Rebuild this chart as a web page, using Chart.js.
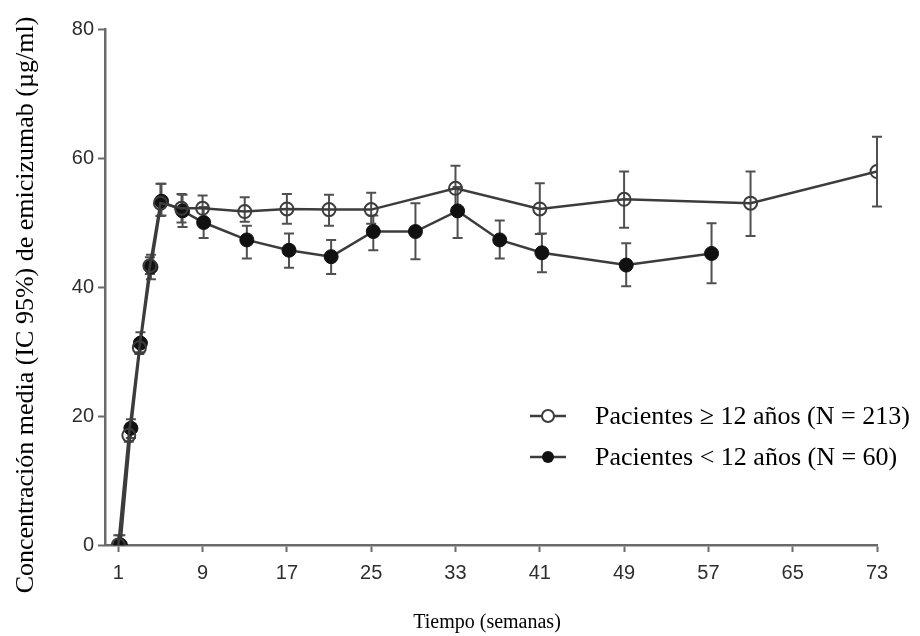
<!DOCTYPE html>
<html>
<head>
<meta charset="utf-8">
<script src="https://cdn.jsdelivr.net/npm/chart.js@4/dist/chart.umd.min.js"></script>
<style>
  body { margin: 0; background: #fff; }
  canvas { display: block; }
</style>
</head>
<body>
<canvas id="pkChart" width="920" height="636"></canvas>
<script>
// datos (semanas, media, IC 95%)
const weeksOld = [1, 2, 3, 4, 5, 7, 9, 13, 17, 21, 25, 33, 41, 49, 61, 73];
const meanOld  = [0, 17.0, 30.6, 43.3, 53.0, 52.2, 52.2, 51.7, 52.1, 52.0, 52.0, 55.3, 52.1, 53.6, 53.0, 57.9];
const lowOld   = [0, 16.0, 29.6, 42.0, 51.0, 50.0, 50.4, 50.1, 49.8, 49.5, 49.8, 51.8, 48.2, 49.2, 47.9, 52.5];
const highOld  = [1.5, 18.3, 31.8, 44.6, 56.0, 54.4, 54.2, 53.9, 54.4, 54.3, 54.6, 58.8, 56.1, 57.9, 57.9, 63.3];

const weeksYoung = [1.2, 2.2, 3.1, 4.1, 5.1, 7.1, 9.1, 13.2, 17.2, 21.2, 25.2, 29.2, 33.2, 37.2, 41.2, 49.2, 57.3];
const meanYoung  = [0, 18.1, 31.3, 43.1, 53.3, 51.8, 50.0, 47.3, 45.7, 44.7, 48.6, 48.6, 51.8, 47.3, 45.3, 43.4, 45.2];
const lowYoung   = [0, 16.6, 29.9, 41.2, 51.1, 49.3, 47.6, 44.4, 43.0, 42.0, 45.7, 44.3, 47.6, 44.4, 42.3, 40.1, 40.6];
const highYoung  = [1.5, 19.5, 33.0, 45.0, 56.0, 54.3, 52.4, 49.5, 48.3, 47.3, 51.1, 53.0, 55.5, 50.3, 48.3, 46.8, 49.9];

const xTicks = [1, 9, 17, 25, 33, 41, 49, 57, 65, 73];
const seriesLabels = ['Pacientes \u2265 12 a\u00f1os (N = 213)', 'Pacientes < 12 a\u00f1os (N = 60)'];
const xTitle = 'Tiempo (semanas)';
const yTitle = 'Concentraci\u00f3n media (IC 95%) de emicizumab (\u00b5g/ml)';

function toPoints(xs, ys, lo, hi) {
    return xs.map((x, i) => ({ x: x, y: ys[i], lo: lo[i], hi: hi[i] }));
}

const LINE = '#3c3c3c';
const AXIS = '#6a6a6a';

// barras de error (IC 95%) debajo de los marcadores
const errorBars = {
    id: 'errorBars',
    beforeDatasetsDraw(chart) {
        const { ctx, scales: { x, y } } = chart;
        ctx.save();
        ctx.strokeStyle = '#505050';
        ctx.lineWidth = 2;
        chart.data.datasets.forEach((ds) => {
            ds.data.forEach((p) => {
                const px = x.getPixelForValue(p.x);
                const top = y.getPixelForValue(p.hi);
                const bot = y.getPixelForValue(p.lo);
                ctx.beginPath();
                ctx.moveTo(px, top); ctx.lineTo(px, bot);
                ctx.moveTo(px - 5, top); ctx.lineTo(px + 5, top);
                ctx.moveTo(px - 5, bot); ctx.lineTo(px + 5, bot);
                ctx.stroke();
            });
        });
        ctx.restore();
    }
};

// títulos de ejes y leyenda
const labelsPlugin = {
    id: 'labelsPlugin',
    afterDraw(chart) {
        const { ctx } = chart;
        ctx.save();
        ctx.fillStyle = '#000';
        ctx.font = '20px "Liberation Serif", "Times New Roman", serif';
        ctx.textAlign = 'center';
        ctx.textBaseline = 'alphabetic';
        ctx.fillText(xTitle, 487, 628);

        ctx.save();
        ctx.translate(33, 305);
        ctx.rotate(-Math.PI / 2);
        ctx.font = '26px "Liberation Serif", "Times New Roman", serif';
        ctx.fillText(yTitle, 0, 0);
        ctx.restore();

        // leyenda
        const rows = [416, 457];
        chart.data.datasets.forEach((ds, i) => {
            const cy = rows[i];
            ctx.strokeStyle = LINE;
            ctx.lineWidth = 2.5;
            ctx.beginPath();
            ctx.moveTo(530, cy); ctx.lineTo(566, cy);
            ctx.stroke();
            ctx.beginPath();
            ctx.arc(548, cy, 6, 0, Math.PI * 2);
            if (i === 1) { ctx.fillStyle = '#111'; ctx.fill(); }
            else { ctx.fillStyle = '#fff'; ctx.fill(); ctx.lineWidth = 2; ctx.stroke(); }
            ctx.fillStyle = '#000';
            ctx.font = '26px "Liberation Serif", "Times New Roman", serif';
            ctx.textAlign = 'left';
            ctx.textBaseline = 'middle';
            ctx.fillText(ds.label, 595, cy + 1);
        });
        ctx.restore();
    }
};

new Chart(document.getElementById('pkChart'), {
    type: 'line',
    data: {
        datasets: [{
            label: seriesLabels[0],
            data: toPoints(weeksOld, meanOld, lowOld, highOld),
            borderColor: LINE,
            borderWidth: 2.5,
            pointRadius: 6.5,
            pointBorderWidth: 2,
            pointBorderColor: LINE,
            pointBackgroundColor: 'rgba(0,0,0,0)',
            tension: 0
        }, {
            label: seriesLabels[1],
            data: toPoints(weeksYoung, meanYoung, lowYoung, highYoung),
            borderColor: LINE,
            borderWidth: 2.5,
            pointRadius: 7,
            pointBorderWidth: 1,
            pointBorderColor: '#111',
            pointBackgroundColor: '#111',
            tension: 0
        }]
    },
    options: {
        responsive: false,
        animation: false,
        layout: { padding: { left: 0, right: 43, top: 29, bottom: 0 } },
        plugins: {
            legend: { display: false },
            tooltip: { enabled: false }
        },
        scales: {
            x: {
                type: 'linear',
                min: -0.26,
                max: 73,
                afterBuildTicks: (scale) => { scale.ticks = xTicks.map((v) => ({ value: v })); },
                afterFit: (scale) => { scale.height = 91; },
                grid: { drawOnChartArea: false, drawTicks: true, tickLength: 7, tickColor: AXIS, tickWidth: 2 },
                border: { display: true, color: AXIS, width: 2.5 },
                ticks: {
                    color: '#2e2e2e',
                    padding: 9,
                    maxRotation: 0,
                    font: { family: '"Liberation Sans", Arial, sans-serif', size: 20 }
                }
            },
            y: {
                min: 0,
                max: 80,
                afterFit: (scale) => { scale.width = 105; },
                grid: { drawOnChartArea: false, drawTicks: true, tickLength: 7, tickColor: AXIS, tickWidth: 2 },
                border: { display: true, color: AXIS, width: 2.5 },
                ticks: {
                    stepSize: 20,
                    color: '#2e2e2e',
                    padding: 4,
                    font: { family: '"Liberation Sans", Arial, sans-serif', size: 20 }
                }
            }
        }
    },
    plugins: [errorBars, labelsPlugin]
});
</script>
</body>
</html>
